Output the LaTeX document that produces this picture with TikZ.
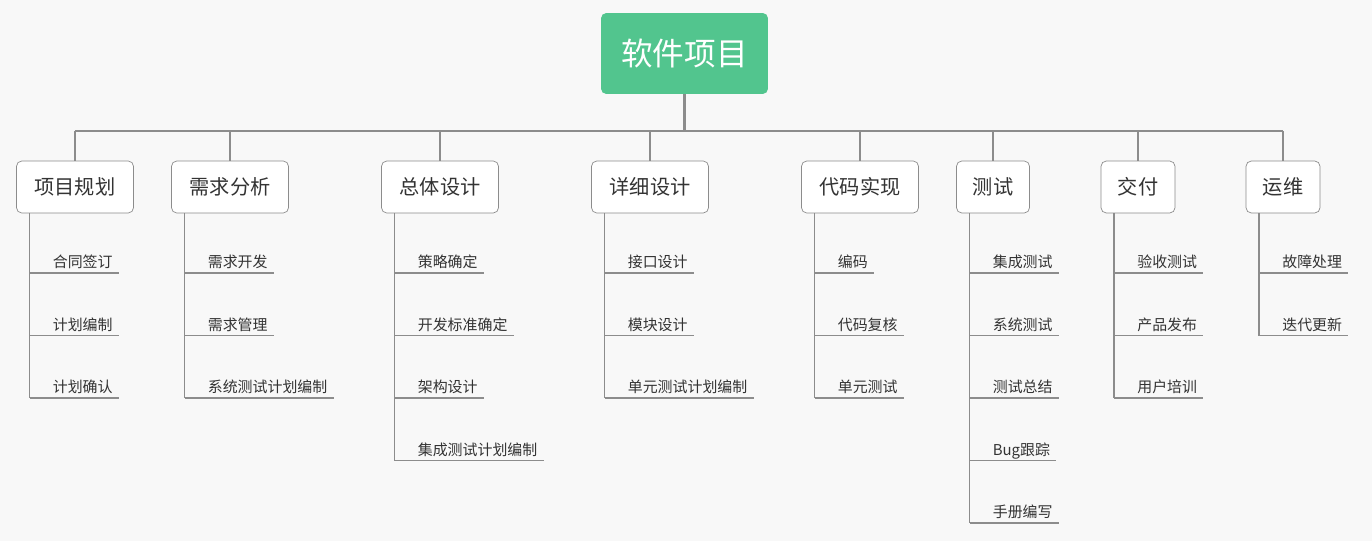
\documentclass[tikz,border=0pt]{standalone}
\usepackage{fontspec}
\setmainfont{Noto Sans CJK SC}
\usetikzlibrary{positioning}
\definecolor{bg}{HTML}{F8F8F8}
\definecolor{lineg}{HTML}{8C8C8C}
\definecolor{rootg}{HTML}{52C58E}
\definecolor{txt}{HTML}{333333}
\tikzset{root/.style={fill=rootg, rounded corners=3pt, minimum width=3.34cm, minimum height=1.62cm, text=white, font=\fontsize{18}{20}\selectfont}}
\tikzset{cat/.style={draw=lineg, fill=white, rounded corners=3pt, minimum height=1.04cm, text=txt, font=\fontsize{11.5}{13}\selectfont}}
\tikzset{leaf/.style={anchor=south west, inner xsep=0pt, inner ysep=0.1cm, text depth=0pt, text=txt, font=\fontsize{8.5}{10}\selectfont}}
\tikzset{bus/.style={draw=lineg, line width=1.4pt}}
\tikzset{stem/.style={draw=lineg, line width=0.6pt}}

\begin{document}
\begin{tikzpicture}[x=0.02cm, y=-0.02cm]
        \fill[bg] (0,0) rectangle (1372,541);

        \node[root] (root) at (684.5,53.5) {软件项目};
        \coordinate (hub) at (684.5,131);
        \draw[bus] (root) -- (hub);

        \foreach \i/\cx/\bw/\lbl/\kids in {
          1/75/117/项目规划/{合同签订,计划编制,计划确认},
          2/230/117/需求分析/{需求开发,需求管理,系统测试计划编制},
          3/440/117/总体设计/{策略确定,开发标准确定,架构设计,集成测试计划编制},
          4/650/117/详细设计/{接口设计,模块设计,单元测试计划编制},
          5/860/117/代码实现/{编码,代码复核,单元测试},
          6/993/73/测试/{集成测试,系统测试,测试总结,Bug跟踪,手册编写},
          7/1138/74/交付/{验收测试,产品发布,用户培训},
          8/1283/74/运维/{故障处理,迭代更新}}{
          \node[cat, minimum width=\bw*0.02cm] (cat\i) at (\cx,187) {\lbl};
          \draw[bus] (cat\i.north) -- (cat\i.north |- hub);
          \coordinate (top\i) at (\cx-\bw/2+13,213);
          \foreach \k [count=\j] in \kids {
            \node[leaf] (leaf\i-\j) at (\cx-\bw/2+13,273+62.5*\j-62.5) {\hspace*{0.46cm}\k\hspace*{0.12cm}};
            \draw[stem] (leaf\i-\j.south west) -- (leaf\i-\j.south east);
            \xdef\lastkid{\j}
          }
          \draw[stem] (top\i) -- (leaf\i-\lastkid.south west);
        }

        \draw[bus] (cat1.north |- hub) -- (cat8.north |- hub);
\end{tikzpicture}
\end{document}
